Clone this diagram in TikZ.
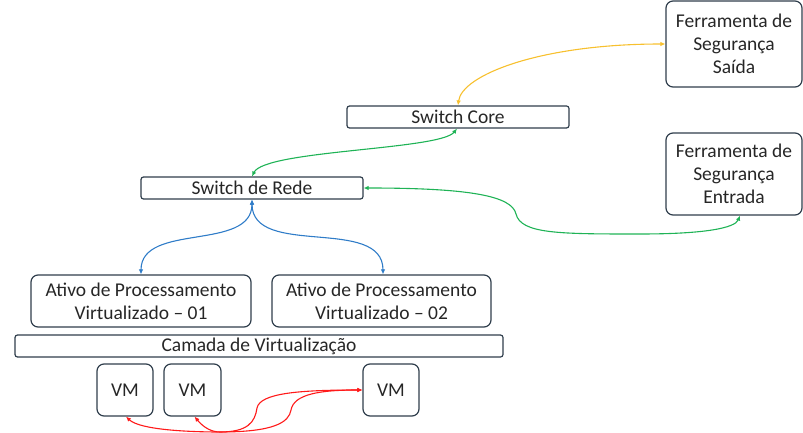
\documentclass[tikz,border=0pt]{standalone}
\usepackage{fontspec}
\setmainfont{Carlito}
\usepackage{tikz}
\usetikzlibrary{arrows.meta}

\definecolor{boxline}{HTML}{2F3E4C}
\definecolor{linkyellow}{HTML}{F7C02E}
\definecolor{linkgreen}{HTML}{1FB356}
\definecolor{linkblue}{HTML}{2F7CC8}
\definecolor{linkred}{HTML}{FF1A1A}

\begin{document}
\begin{tikzpicture}[x=1pt,y=-1pt,
    box/.style={draw=boxline,line width=1.2pt,rounded corners=7pt,inner sep=0pt,
      align=center,text=black!85,font=\fontsize{19.5}{23}\selectfont},
    bar/.style={box,rounded corners=2.5pt},
    link/.style={line width=1.1pt,{Latex[length=5pt,width=4.5pt]}-{Latex[length=5pt,width=4.5pt]}}]
  \useasboundingbox (0,0) rectangle (803,433);

  % security tools on the right
  \node[box,minimum width=136,minimum height=86] (saida) at (734,44) {Ferramenta de\\Segurança\\Saída};
  \node[box,minimum width=136,minimum height=82] (entrada) at (734,174) {Ferramenta de\\Segurança\\Entrada};

  % switches
  \node[bar,minimum width=222,minimum height=22] (core) at (458,117) {Switch Core};
  \node[bar,minimum width=222,minimum height=22] (rede) at (252,188) {Switch de Rede};

  % hosts and virtualization layer
  \node[box,minimum width=220,minimum height=52] (ativoA) at (141,301) {Ativo de Processamento\\Virtualizado -- 01};
  \node[box,minimum width=219,minimum height=52] (ativoB) at (381.5,301) {Ativo de Processamento\\Virtualizado -- 02};
  \node[bar,minimum width=488,minimum height=22] (camada) at (259,346) {Camada de Virtualização};

  % virtual machines
  \node[box,minimum width=56,minimum height=52] (vmA) at (125,390) {VM};
  \node[box,minimum width=57,minimum height=52] (vmB) at (192.5,390) {VM};
  \node[box,minimum width=56,minimum height=52] (vmC) at (391,390) {VM};

  % links
  \draw[link,linkyellow] (core.north) .. controls (462,75) and (540,44) .. (saida.west);
  \draw[link,linkgreen] (rede.north) .. controls (265,150) and (440,150) .. ([xshift=-1pt]core.south);
  \draw[link,linkgreen] (rede.east) .. controls (470,188) and (512,196) .. (516,214)
    .. controls (521,234) and (560,234) .. (640,234)
    .. controls (705,234) and (735,228) .. ([xshift=6pt]entrada.south);
  \draw[link,linkblue] (rede.south) to[out=-90,in=90] (ativoA.north);
  \draw[link,linkblue] (rede.south) to[out=-90,in=90] ([xshift=1.5pt]ativoB.north);
  % vm migration paths
  \draw[link,linkred] ([xshift=1pt]vmA.south) .. controls (140,430) and (190,432) .. (220,432)
    .. controls (248,432) and (255,422) .. (257,408)
    .. controls (260,393) and (300,390) .. (vmC.west);
  \draw[link,linkred] ([xshift=2pt]vmB.south) .. controls (204,428) and (212,432) .. (220,432)
    .. controls (275,432) and (289,422) .. (291,410)
    .. controls (294,394) and (320,390) .. (vmC.west);
\end{tikzpicture}
\end{document}
